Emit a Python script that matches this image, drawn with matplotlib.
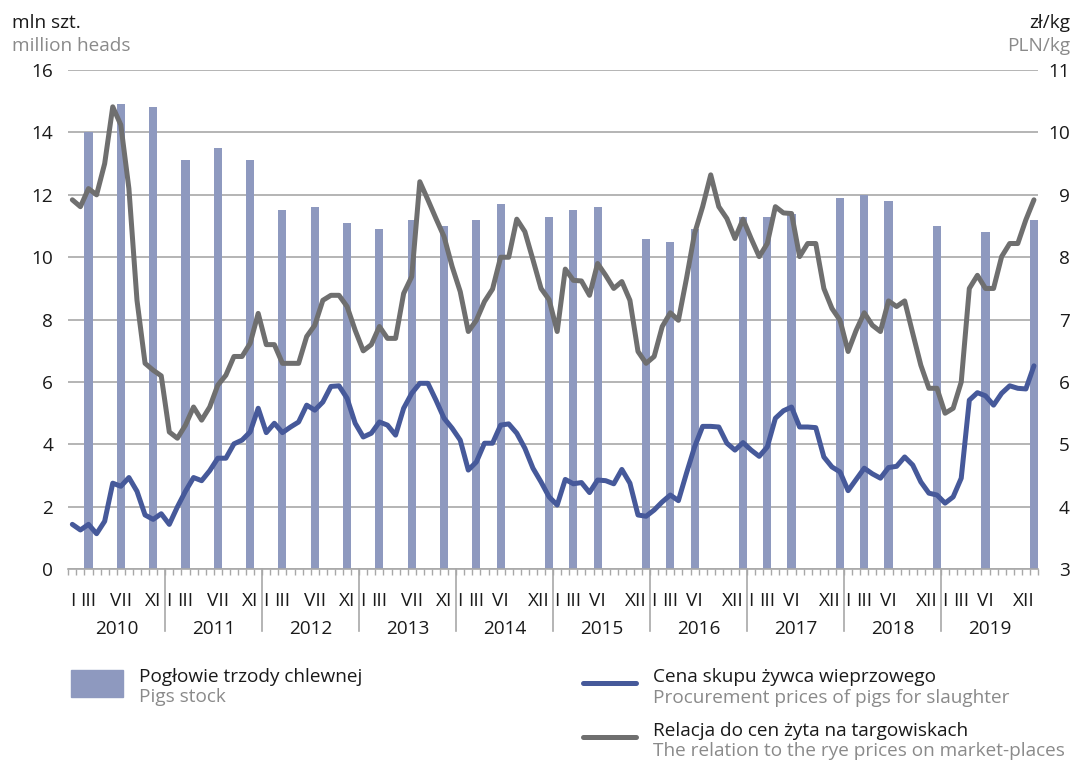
import numpy as np
import matplotlib
matplotlib.use("Agg")
import matplotlib.pyplot as plt
from matplotlib.patches import Rectangle

plt.rcParams['font.family'] = ['Open Sans', 'DejaVu Sans']

years = [2010, 2011, 2012, 2013, 2014, 2015, 2016, 2017, 2018, 2019]

# pigs stock, mln heads (survey months)
stock_dates = ["2010-03", "2010-07", "2010-11", "2011-03", "2011-07", "2011-11",
               "2012-03", "2012-07", "2012-11", "2013-03", "2013-07", "2013-11",
               "2014-03", "2014-06", "2014-12", "2015-03", "2015-06", "2015-12",
               "2016-03", "2016-06", "2016-12", "2017-03", "2017-06", "2017-12",
               "2018-03", "2018-06", "2018-12", "2019-06", "2019-12"]
stock_values = [14.0, 14.9, 14.8, 13.1, 13.5, 13.1,
                11.5, 11.6, 11.1, 10.9, 11.2, 11.0,
                11.2, 11.7, 11.3, 11.5, 11.6, 10.6,
                10.5, 10.9, 11.3, 11.3, 11.4, 11.9,
                12.0, 11.8, 11.0, 10.8, 11.2]

# procurement price of pigs, zl/kg (monthly)
price = [3.72, 3.63, 3.72, 3.57, 3.77, 4.38, 4.33, 4.47, 4.25, 3.87, 3.80, 3.89,
         3.72, 4.00, 4.25, 4.47, 4.42, 4.58, 4.78, 4.78, 5.01, 5.07, 5.20, 5.58,
         5.19, 5.34, 5.19, 5.28, 5.36, 5.63, 5.55, 5.68, 5.93, 5.94, 5.74, 5.34,
         5.12, 5.18, 5.36, 5.31, 5.15, 5.58, 5.82, 5.98, 5.98, 5.71, 5.42, 5.26,
         5.07, 4.59, 4.72, 5.02, 5.02, 5.31, 5.33, 5.18, 4.94, 4.62, 4.40, 4.16,
         4.03, 4.44, 4.37, 4.39, 4.23, 4.43, 4.42, 4.37, 4.60, 4.38, 3.87, 3.85,
         3.95, 4.08, 4.19, 4.10, 4.54, 4.96, 5.29, 5.29, 5.28, 5.02, 4.91, 5.03,
         4.91, 4.81, 4.96, 5.42, 5.54, 5.60, 5.28, 5.28, 5.27, 4.80, 4.64, 4.56,
         4.26, 4.44, 4.62, 4.53, 4.46, 4.63, 4.65, 4.80, 4.67, 4.40, 4.22, 4.19,
         4.06, 4.16, 4.46, 5.71, 5.83, 5.78, 5.63, 5.82, 5.94, 5.90, 5.89, 6.26]

# relation to rye prices (monthly)
relation = [8.92, 8.81, 9.10, 9.00, 9.50, 10.41, 10.12, 9.10, 7.31, 6.30, 6.19, 6.10,
            5.20, 5.10, 5.31, 5.60, 5.39, 5.60, 5.95, 6.11, 6.41, 6.41, 6.62, 7.10,
            6.60, 6.60, 6.30, 6.30, 6.30, 6.73, 6.91, 7.31, 7.39, 7.39, 7.21, 6.83,
            6.50, 6.60, 6.89, 6.70, 6.70, 7.42, 7.69, 9.21, 8.92, 8.62, 8.33, 7.85,
            7.45, 6.81, 6.99, 7.29, 7.49, 8.00, 8.00, 8.61, 8.41, 7.96, 7.50, 7.32,
            6.81, 7.81, 7.63, 7.62, 7.39, 7.90, 7.71, 7.50, 7.61, 7.31, 6.49, 6.30,
            6.41, 6.89, 7.11, 6.99, 7.66, 8.38, 8.81, 9.32, 8.81, 8.62, 8.30, 8.61,
            8.30, 8.01, 8.22, 8.81, 8.71, 8.70, 8.01, 8.22, 8.22, 7.50, 7.18, 6.99,
            6.49, 6.83, 7.11, 6.91, 6.81, 7.30, 7.21, 7.30, 6.78, 6.27, 5.90, 5.90,
            5.50, 5.58, 6.00, 7.50, 7.71, 7.50, 7.50, 8.01, 8.22, 8.22, 8.60, 8.92]

month_labels_a = {1: "I", 3: "III", 7: "VII", 11: "XI"}   # 2010-2013
month_labels_b = {1: "I", 3: "III", 6: "VI", 12: "XII"}   # 2014-2019

BAR = "#8e99bf"
BLUE = "#46599a"
GREY = "#6f6f6f"
GRID = "#a8a8a8"
TXT = "#1a1a1a"
TXT2 = "#8a8a8a"
FS = 13.7

W, H = 1074, 763
fig = plt.figure(figsize=(W / 100, H / 100), dpi=100)

# overlay for header and legend in pixel coords
ov = fig.add_axes([0, 0, 1, 1])
ov.set_xlim(0, W)
ov.set_ylim(H, 0)
ov.axis("off")

x0, x1, ytop, ybot = 68.3, 1038, 70, 569.3
ax = fig.add_axes([x0 / W, 1 - ybot / H, (x1 - x0) / W, (ybot - ytop) / H])
ax2 = ax.twinx()

months = np.arange(len(price))
bar_x = [(int(d[:4]) - years[0]) * 12 + int(d[5:]) - 1 for d in stock_dates]

ax.bar(bar_x, stock_values, width=1.0, color=BAR, zorder=2)
ax.set_ylim(0, 16)
ax.set_xlim(-0.5, len(price) - 0.5)
ax.set_yticks(range(0, 17, 2))
ax.yaxis.grid(True, color=GRID, linewidth=1.2)
ax.set_axisbelow(True)
ax.tick_params(axis="y", length=0, pad=11, labelsize=FS, labelcolor=TXT)

ax2.plot(months, relation, color=GREY, linewidth=3.6, solid_joinstyle="round", solid_capstyle="round")
ax2.plot(months, price, color=BLUE, linewidth=3.6, solid_joinstyle="round", solid_capstyle="round")
ax2.set_ylim(3, 11)
ax2.set_yticks(range(3, 12))
ax2.tick_params(axis="y", length=0, pad=23, labelsize=FS, labelcolor=TXT)
for lbl in ax2.get_yticklabels():
    lbl.set_horizontalalignment("right")

for a in (ax, ax2):
    for s in ("top", "left", "right"):
        a.spines[s].set_visible(False)
    a.spines["bottom"].set_color(GRID)
    a.spines["bottom"].set_linewidth(1.2)
ax2.spines["bottom"].set_visible(False)

# x axis: monthly ticks, month labels, year labels, separators
ax.set_xticks(np.arange(-0.5, len(price), 1.0))
ax.set_xticklabels([])
ax.tick_params(axis="x", length=4, width=1, color=GRID, direction="out")

trans = ax.get_xaxis_transform()
yb = ybot - ytop
for k, yr in enumerate(years):
    labels = month_labels_a if yr <= 2013 else month_labels_b
    for m, lab in labels.items():
        if m == 12:
            ax.text(k * 12 + 11.1, -(605.7 - ybot) / yb, lab, transform=trans,
                    ha="right", va="baseline", fontsize=FS, color=TXT)
        else:
            ax.text(k * 12 + m - 1, -(605.7 - ybot) / yb, lab, transform=trans,
                    ha="center", va="baseline", fontsize=FS, color=TXT)
    ax.text(k * 12 + 5.5, -(634 - ybot) / yb, str(yr), transform=trans,
            ha="center", va="baseline", fontsize=FS, color=TXT)
    if k > 0:
        ax.plot([k * 12 - 0.5] * 2, [0, -(630.7 - ybot) / yb], transform=trans,
                color=GRID, linewidth=1.2, clip_on=False)

# header texts
ov.text(12, 28.3, "mln szt.", fontsize=FS, color=TXT, va="baseline")
ov.text(12, 50.7, "million heads", fontsize=FS, color=TXT2, va="baseline")
ov.text(1070, 28.3, "zł/kg", fontsize=FS, color=TXT, va="baseline", ha="right")
ov.text(1070, 50.7, "PLN/kg", fontsize=FS, color=TXT2, va="baseline", ha="right")

# legend
ov.add_patch(Rectangle((71, 670), 52, 27, color=BAR))
ov.text(139, 681.7, "Pogłowie trzody chlewnej", fontsize=FS, color=TXT, va="baseline")
ov.text(139, 702, "Pigs stock", fontsize=FS, color=TXT2, va="baseline")

ov.plot([583, 636], [682.7, 682.7], color=BLUE, linewidth=3.6, solid_capstyle="round")
ov.text(653, 681.7, "Cena skupu żywca wieprzowego", fontsize=FS, color=TXT, va="baseline")
ov.text(653, 703, "Procurement prices of pigs for slaughter", fontsize=FS, color=TXT2, va="baseline")

ov.plot([583, 636], [736.7, 736.7], color=GREY, linewidth=3.6, solid_capstyle="round")
ov.text(653, 736, "Relacja do cen żyta na targowiskach", fontsize=FS, color=TXT, va="baseline")
ov.text(653, 756, "The relation to the rye prices on market-places", fontsize=FS, color=TXT2, va="baseline")

fig.savefig("out.png", dpi=100)
